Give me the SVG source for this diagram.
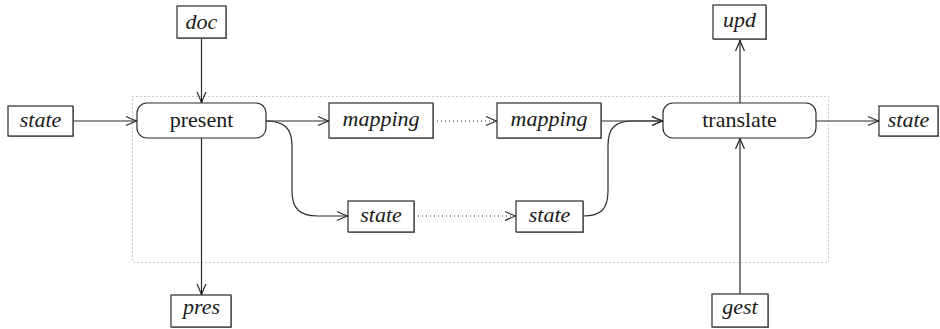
<svg xmlns="http://www.w3.org/2000/svg" width="940" height="329" viewBox="0 0 940 329">
  <style>
    .box { fill: #fff; stroke: #2a2a2a; stroke-width: 1.2; }
    .shadow { fill: #9a9a9a; }
    .proc { fill: #fff; stroke: #2a2a2a; stroke-width: 1.2; }
    .lbl { font-size: 22px; font-style: italic; fill: #1a1a1a; text-anchor: middle; }
    .name { font-size: 22px; fill: #1a1a1a; text-anchor: middle; }
    .wire { fill: none; stroke: #2a2a2a; stroke-width: 1.2; }
    .dots { fill: none; stroke: #333; stroke-width: 1.1; stroke-dasharray: 1 3; }
    .frame { fill: none; stroke: #999; stroke-width: 1; stroke-dasharray: 1 3; }
  </style>
  <defs>
    <marker id="open" viewBox="-12 -6 14 12" refX="0" refY="0" markerWidth="14" markerHeight="12" markerUnits="userSpaceOnUse" orient="auto">
      <path d="M-11,-4.5 Q-4,-1.2 0,0 Q-4,1.2 -11,4.5" fill="none" stroke="#2a2a2a" stroke-width="1.2"/>
    </marker>
  </defs>

  <!-- dotted frame around the inner processing stage -->
  <rect class="frame" x="132.5" y="96.5" width="696" height="166"/>

  <!-- connectors -->
  <g id="connectors">
    <path class="wire" d="M73,121 H137" marker-end="url(#open)"/>
    <path class="wire" d="M201.5,38 V103" marker-end="url(#open)"/>
    <path class="wire" d="M266,121 H329" marker-end="url(#open)"/>
    <path class="wire" d="M201.5,138 V295" marker-end="url(#open)"/>
    <path class="wire" d="M266,121 C284,121 292,128 292,146 V191 C292,209 300,216 318,216 H348" marker-end="url(#open)"/>
    <path class="dots" d="M433,121 H497" marker-end="url(#open)"/>
    <path class="dots" d="M414,216 H516" marker-end="url(#open)"/>
    <path class="wire" d="M601,121 H663" marker-end="url(#open)"/>
    <path class="wire" d="M583,216 C601,216 608,209 608,191 V146 C608,128 615,121 633,121 H663" marker-end="url(#open)"/>
    <path class="wire" d="M740,103 V40" marker-end="url(#open)"/>
    <path class="wire" d="M740,294 V138" marker-end="url(#open)"/>
    <path class="wire" d="M816,121 H879" marker-end="url(#open)"/>
  </g>

  <g id="state-in">
    <rect class="shadow" x="9" y="107" width="65" height="30"/>
    <rect class="box" x="8" y="106" width="65" height="30"/>
    <text class="lbl" font-family="Times New Roman" x="40.5" y="127">state</text>
  </g>

  <g id="doc">
    <rect class="shadow" x="178" y="7" width="49" height="32"/>
    <rect class="box" x="177" y="6" width="49" height="32"/>
    <text class="lbl" font-family="Times New Roman" x="201.5" y="29">doc</text>
  </g>

  <g id="present">
    <rect class="proc" x="137" y="103" width="129" height="35" rx="10" ry="10"/>
    <text class="name" font-family="Times New Roman" x="201.5" y="127">present</text>
  </g>

  <g id="pres">
    <rect class="shadow" x="172" y="296" width="60" height="32"/>
    <rect class="box" x="171" y="295" width="60" height="32"/>
    <text class="lbl" font-family="Times New Roman" x="201.5" y="314">pres</text>
  </g>

  <g id="mapping-a">
    <rect class="shadow" x="330" y="104" width="104" height="35"/>
    <rect class="box" x="329" y="103" width="104" height="35"/>
    <text class="lbl" font-family="Times New Roman" x="381" y="126">mapping</text>
  </g>

  <g id="mapping-b">
    <rect class="shadow" x="498" y="104" width="104" height="35"/>
    <rect class="box" x="497" y="103" width="104" height="35"/>
    <text class="lbl" font-family="Times New Roman" x="549" y="126">mapping</text>
  </g>

  <g id="state-a">
    <rect class="shadow" x="349" y="202" width="66" height="31"/>
    <rect class="box" x="348" y="201" width="66" height="31"/>
    <text class="lbl" font-family="Times New Roman" x="381" y="222">state</text>
  </g>

  <g id="state-b">
    <rect class="shadow" x="517" y="202" width="67" height="31"/>
    <rect class="box" x="516" y="201" width="67" height="31"/>
    <text class="lbl" font-family="Times New Roman" x="549.5" y="222">state</text>
  </g>

  <g id="translate">
    <rect class="proc" x="663" y="103" width="153" height="35" rx="10" ry="10"/>
    <text class="name" font-family="Times New Roman" x="739.5" y="127">translate</text>
  </g>

  <g id="upd">
    <rect class="shadow" x="714" y="6" width="53" height="34"/>
    <rect class="box" x="713" y="5" width="53" height="34"/>
    <text class="lbl" font-family="Times New Roman" x="739.5" y="27">upd</text>
  </g>

  <g id="gest">
    <rect class="shadow" x="713" y="295" width="56" height="33"/>
    <rect class="box" x="712" y="294" width="56" height="33"/>
    <text class="lbl" font-family="Times New Roman" x="740" y="314">gest</text>
  </g>

  <g id="state-out">
    <rect class="shadow" x="880" y="107" width="59" height="30"/>
    <rect class="box" x="879" y="106" width="59" height="30"/>
    <text class="lbl" font-family="Times New Roman" x="908.5" y="127">state</text>
  </g>
</svg>
